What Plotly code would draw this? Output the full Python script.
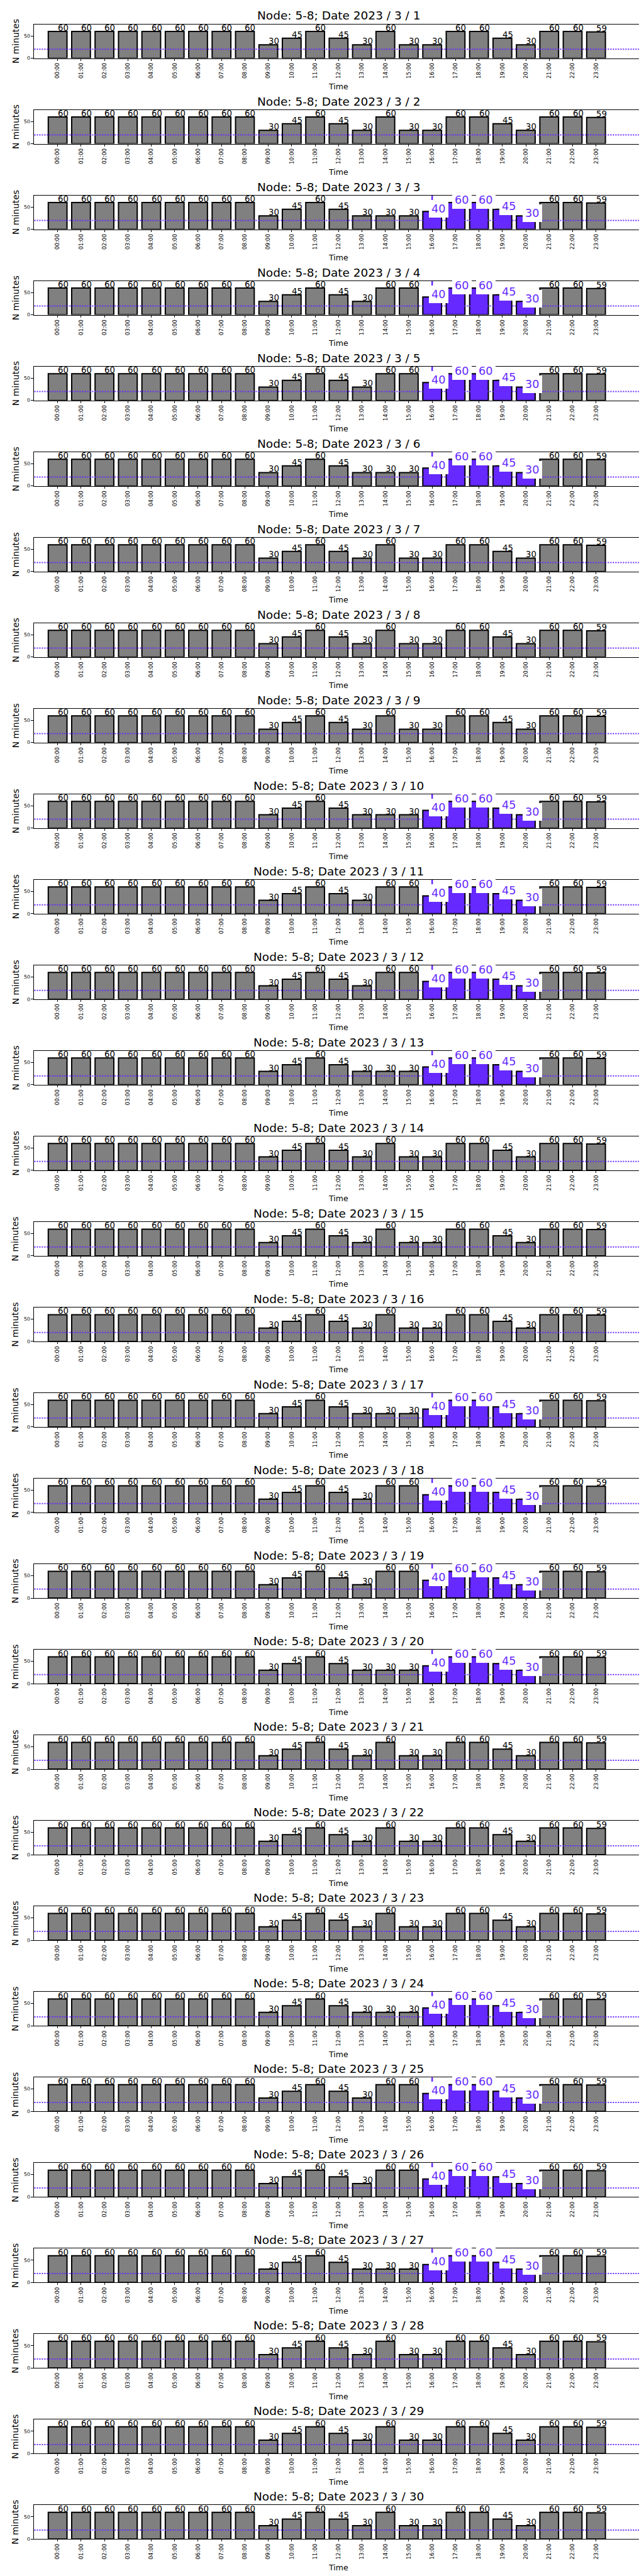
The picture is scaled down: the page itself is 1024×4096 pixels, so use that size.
import plotly.graph_objects as go

# ---------------- data ----------------
hours = ["00:00", "01:00", "02:00", "03:00", "04:00", "05:00", "06:00", "07:00",
         "08:00", "09:00", "10:00", "11:00", "12:00", "13:00", "14:00", "15:00",
         "16:00", "17:00", "18:00", "19:00", "20:00", "21:00", "22:00", "23:00"]

# minutes per hour, three recurring daily profiles
minutes_tue_thu = [60, 60, 60, 60, 60, 60, 60, 60, 60, 30, 45, 60,
                   45, 30, 60, 30, 30, 60, 60, 45, 30, 60, 60, 59]
minutes_fri_mon = [60, 60, 60, 60, 60, 60, 60, 60, 60, 30, 45, 60,
                   45, 30, 30, 30, 40, 60, 60, 45, 30, 60, 60, 59]
minutes_sat_sun = [60, 60, 60, 60, 60, 60, 60, 60, 60, 30, 45, 60,
                   45, 30, 60, 60, 40, 60, 60, 45, 30, 60, 60, 59]

day_numbers = [1, 2, 3, 4, 5, 6, 7, 8, 9, 10, 11, 12, 13, 14, 15,
               16, 17, 18, 19, 20, 21, 22, 23, 24, 25, 26, 27, 28, 29, 30]
day_profiles = ["tue_thu", "tue_thu", "fri_mon", "sat_sun", "sat_sun", "fri_mon",
                "tue_thu", "tue_thu", "tue_thu", "fri_mon", "sat_sun", "sat_sun",
                "fri_mon", "tue_thu", "tue_thu", "tue_thu", "fri_mon", "sat_sun",
                "sat_sun", "fri_mon", "tue_thu", "tue_thu", "tue_thu", "fri_mon",
                "sat_sun", "sat_sun", "fri_mon", "tue_thu", "tue_thu", "tue_thu"]
highlighted_profiles = ["fri_mon", "sat_sun"]
highlight_hours = ["16:00", "17:00", "18:00", "19:00", "20:00"]
highlight_start = "16:00"
threshold_minutes = 20
y_tick_values = [0, 50]
node_name = "5-8"
year, month = 2023, 3

profiles = {"tue_thu": minutes_tue_thu, "fri_mon": minutes_fri_mon,
            "sat_sun": minutes_sat_sun}

# ---------------- styling / layout ----------------
W, H = 1024, 4096
REF_W, REF_H = 1500.0, 6000.0

GRAY = "#808080"
PURPLE = "#6629ff"
FONT = "DejaVu Sans"

X_LEFT, X_RIGHT = 68 / REF_W, 1485.6 / REF_W
PANEL_TOP0, PANEL_STEP, PANEL_H = 45.0, 199.5, 79.0

fig = go.Figure()
annotations = []
shapes = []

for k, day in enumerate(day_numbers):
    sfx = "" if k == 0 else str(k + 1)
    xa, ya = "x" + sfx, "y" + sfx
    prof = day_profiles[k]
    vals = profiles[prof]
    hl = prof in highlighted_profiles
    colors = [PURPLE if (hl and h in highlight_hours) else GRAY for h in hours]

    fig.add_trace(go.Bar(
        x=hours, y=vals, xaxis=xa, yaxis=ya, width=0.8,
        marker=dict(color=colors, line=dict(color="black", width=2)),
        showlegend=False, hoverinfo="x+y"))

    top = PANEL_TOP0 + PANEL_STEP * k
    bot = top + PANEL_H
    fig.layout["xaxis" + sfx] = dict(
        domain=[X_LEFT, X_RIGHT], anchor=ya, type="category",
        categoryorder="array", categoryarray=hours, range=[-1, 25],
        tickmode="array", tickvals=hours, ticktext=hours, tickangle=-90,
        tickfont=dict(family=FONT, size=8.7, color="black"),
        ticks="outside", ticklen=3, tickcolor="black", tickwidth=1,
        showline=True, linecolor="black", linewidth=1, mirror=True,
        showgrid=False, zeroline=False, fixedrange=True)
    fig.layout["yaxis" + sfx] = dict(
        domain=[1 - bot / REF_H, 1 - top / REF_H], anchor=xa,
        range=[0, 76], tickmode="array", tickvals=y_tick_values,
        tickfont=dict(family=FONT, size=7.8, color="black"),
        ticks="outside", ticklen=4, tickcolor="black", tickwidth=1,
        showline=True, linecolor="black", linewidth=1, mirror=True,
        showgrid=False, zeroline=False, fixedrange=True)

    # threshold dotted line
    shapes.append(dict(type="line", xref=xa + " domain", yref=ya,
                       x0=0, x1=1, y0=threshold_minutes, y1=threshold_minutes,
                       line=dict(color=PURPLE, width=2, dash="2px,2px"),
                       layer="above"))
    # start of highlighted window
    if hl:
        shapes.append(dict(type="line", xref=xa, yref=ya + " domain",
                           x0=highlight_start, x1=highlight_start, y0=0, y1=1,
                           line=dict(color=PURPLE, width=2.5), layer="below"))

    # value labels
    for h, v in zip(hours, vals):
        if hl and h in highlight_hours:
            annotations.append(dict(
                x=h, y=v, xref=xa, yref=ya, text=str(v), showarrow=False,
                xanchor="left", yanchor="bottom", xshift=-5, yshift=-9.5,
                bgcolor="white", borderpad=4, borderwidth=0,
                font=dict(family=FONT, size=17.7, color=PURPLE)))
        else:
            annotations.append(dict(
                x=h, y=v, xref=xa, yref=ya, text=str(v), showarrow=False,
                xanchor="left", yanchor="bottom", xshift=-2, yshift=-4,
                font=dict(family=FONT, size=13.3, color="black")))

    # panel title
    annotations.append(dict(
        x=0.5, y=1, xref=xa + " domain", yref=ya + " domain",
        text=f"Node: {node_name}; Date {year} / {month} / {day}",
        showarrow=False, xanchor="center", yanchor="bottom", yshift=1.2,
        font=dict(family=FONT, size=18.5, color="black")))
    # x axis label
    annotations.append(dict(
        x=0.5, y=0, xref=xa + " domain", yref=ya + " domain", text="Time",
        showarrow=False, xanchor="center", yanchor="top", yshift=-35.5,
        font=dict(family=FONT, size=12.5, color="black")))
    # y axis label
    annotations.append(dict(
        x=24.1 / REF_W, y=0.5, xref="paper", yref=ya + " domain",
        text="N minutes", textangle=-90, showarrow=False,
        xanchor="center", yanchor="middle",
        font=dict(family=FONT, size=13.9, color="black")))

fig.update_layout(
    width=W, height=H, margin=dict(l=0, r=0, t=0, b=0),
    paper_bgcolor="white", plot_bgcolor="white",
    font=dict(family=FONT, color="black"),
    bargap=0.2, annotations=annotations, shapes=shapes, showlegend=False)

fig.write_html("out.html")
